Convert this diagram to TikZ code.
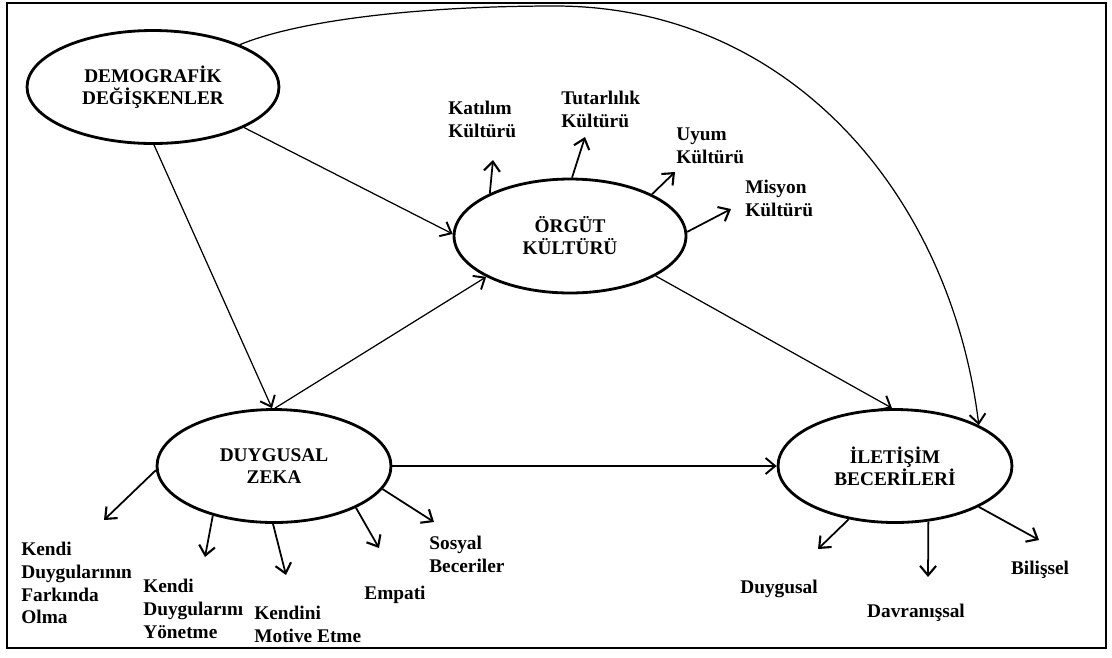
\documentclass[tikz,border=0pt]{standalone}
\usepackage{fontspec}
\setmainfont{Liberation Serif}
\usetikzlibrary{shapes.geometric, arrows.meta}

\begin{document}
\begin{tikzpicture}[
    x=0.02cm, y=-0.02cm,
    factor/.style={ellipse, draw, line width=1.6pt, minimum width=4.68cm, minimum height=2.26cm, inner sep=0pt, align=center, font=\fontsize{11}{12.5}\selectfont\bfseries},
    dim/.style={inner sep=0pt, align=left, font=\fontsize{11}{13}\selectfont\bfseries},
    arrow/.style={-{Straight Barb[length=1.9mm, width=3.2mm, line width=1.1pt]}, line width=0.7pt},
    subarrow/.style={-{Straight Barb[length=1.9mm, width=3.2mm, line width=1.2pt]}, line width=1pt}
]
    \useasboundingbox (0,0) rectangle (1112,657);
    \draw[line width=1.1pt] (7,3) rectangle (1106,648);

    % main factors
    \node (demog) [factor, minimum width=5.04cm] at (153,87) {DEMOGRAFİK\\DEĞİŞKENLER};
    \node (orgut) [factor, minimum width=4.64cm, minimum height=2.28cm] at (570,236) {ÖRGÜT\\KÜLTÜRÜ};
    \node (duyg) [factor] at (274,466) {DUYGUSAL\\ZEKA};
    \node (ilet) [factor] at (895,466) {İLETİŞİM\\BECERİLERİ};

    % dimensions
    \node (kat) [dim, anchor=west] at (448,119) {Katılım\\Kültürü};
    \node (tut) [dim, anchor=west] at (561,109) {Tutarlılık\\Kültürü};
    \node (uyum) [dim, anchor=west] at (676,146) {Uyum\\Kültürü};
    \node (mis) [dim, anchor=west] at (745,198) {Misyon\\Kültürü};
    \node (fark) [dim, anchor=west] at (21,583) {Kendi\\Duygularının\\Farkında\\Olma};
    \node (yon) [dim, anchor=west] at (143,609) {Kendi\\Duygularını\\Yönetme};
    \node (mot) [dim, anchor=west] at (254,624) {Kendini\\Motive Etme};
    \node (emp) [dim] at (395,595) {Empati};
    \node (sos) [dim, anchor=west] at (429,554) {Sosyal\\Beceriler};
    \node (duy) [dim] at (779,589) {Duygusal};
    \node (dav) [dim] at (916,613) {Davranışsal};
    \node (bil) [dim] at (1040,570) {Bilişsel};

    \coordinate (peak) at (555,6);
    \coordinate (katTip) at (493,160);
    \coordinate (tutTip) at (585,137);
    \coordinate (uyumTip) at (675,172);
    \coordinate (misTip) at (731,209);
    \coordinate (farkTip) at (104,520);
    \coordinate (yonTip) at (205,557);
    \coordinate (motTip) at (286,575);
    \coordinate (empTip) at (379,548);
    \coordinate (sosTip) at (434,522);
    \coordinate (duyTip) at (818,549);
    \coordinate (davTip) at (928,577);
    \coordinate (bilTip) at (1039,540);

    % paths
    \draw[arrow] (demog.-24) -- (orgut.179);
    \draw[arrow] (demog.-89) -- (duyg.92);
    \draw[arrow] (duyg.89) -- (orgut.206);
    \draw[arrow] (orgut.-25) -- (ilet.93);
    \draw[arrow] (duyg.east) -- (ilet.west);
    \draw[arrow] (demog.26) .. controls (300,20) and (420,6) .. (peak) to[out=0, in=97] (ilet.26);

    \draw[subarrow] (orgut.152) -- (katTip);
    \draw[subarrow] (orgut.88) -- (tutTip);
    \draw[subarrow] (orgut.27) -- (uyumTip);
    \draw[subarrow] (orgut.2) -- (misTip);
    \draw[subarrow] (duyg.182) -- (farkTip);
    \draw[subarrow] (duyg.219) -- (yonTip);
    \draw[subarrow] (duyg.269) -- (motTip);
    \draw[subarrow] (duyg.-27) -- (empTip);
    \draw[subarrow] (duyg.-12) -- (sosTip);
    \draw[subarrow] (ilet.229) -- (duyTip);
    \draw[subarrow] (ilet.-59) -- (davTip);
    \draw[subarrow] (ilet.-26) -- (bilTip);
\end{tikzpicture}
\end{document}
